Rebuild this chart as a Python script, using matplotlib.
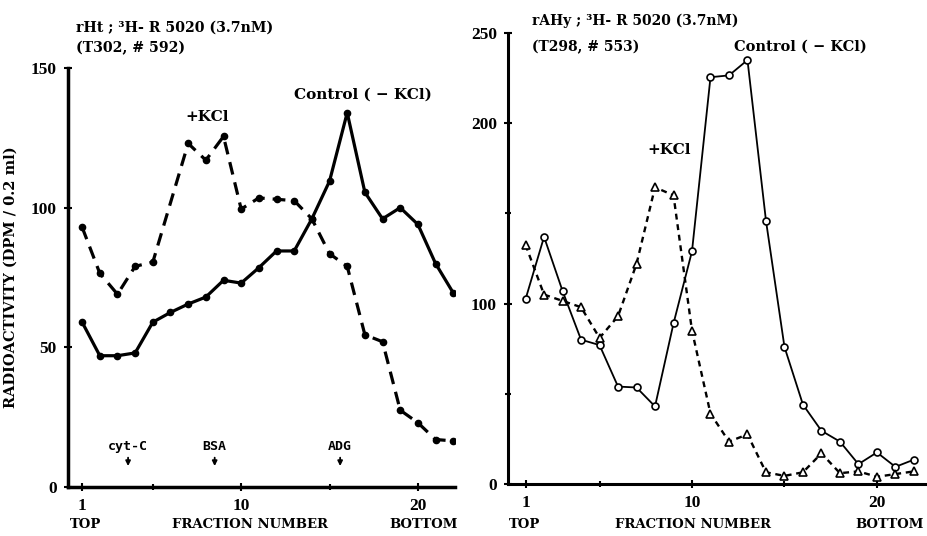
import numpy as np
import matplotlib
matplotlib.use("Agg")
import matplotlib.pyplot as plt

plt.rcParams['font.family'] = ['Liberation Serif', 'DejaVu Serif']
plt.rcParams['font.weight'] = 'bold'
plt.rcParams['axes.labelweight'] = 'bold'
ANCHA = ['DejaVu Serif']  # letra mas ancha, como la del original

# ---- datos ----
# panel izquierdo: rHt
frac_izq = list(range(1, 23))
control_izq = [59, 47, 47, 48, 59, 62.5, 65.5, 68, 74, 73, 78.5,
               84.5, 84.5, 96, 109.5, 134, 105.5, 96, 100, 94, 80, 69.5]
frac_kcl_izq = [1, 2, 3, 4, 5, 7, 8, 9, 10, 11, 12, 13, 14, 15, 16, 17, 18, 19, 20, 21, 22]
kcl_izq = [93, 76.5, 69, 79, 80.5, 123, 117, 125.5, 99.5, 103.5, 103,
           102.5, 96, 83.5, 79, 54.5, 52, 27.5, 23, 17, 16.5]
marcadores = ['cyt-C', 'BSA', 'ADG']
pos_marcadores = [3.6, 8.5, 15.6]

# panel derecho: rAHy
frac_der = list(range(1, 23))
control_der = [102.5, 137, 107, 80, 77, 54, 53.5, 43, 89, 129, 225.5,
               226.5, 235, 146, 76, 44, 29.5, 23.5, 11, 17.5, 9.5, 13.5]
kcl_der = [132.5, 105, 101.5, 98, 81, 93, 122, 164.5, 160, 85, 39,
           23.5, 27.5, 6.5, 4.5, 6.5, 17, 6, 7, 4, 5.5, 7]

fig = plt.figure(figsize=(9.27, 5.36), dpi=100)
ax1 = fig.add_axes([68/927, 1-487/536, (455-68)/927, (487-68)/536])
ax2 = fig.add_axes([508/927, 1-484/536, (925-508)/927, (484-33)/536])

# --- izquierdo ---
ax1.plot(frac_izq, control_izq, '-', color='black', lw=2.3, marker='o', ms=4.5)
ax1.plot(frac_kcl_izq, kcl_izq, '--', color='black', lw=2.3, marker='o', ms=4.5,
         dashes=(4, 2.5))
ax1.set_xlim(0.2, 22.1)
ax1.set_ylim(0, 150)
ax1.set_yticks([0, 50, 100, 150])
ax1.set_xticks([1, 10, 20])
ax1.set_xticks([5, 15], minor=True)
for nombre, xm in zip(marcadores, pos_marcadores):
    ax1.annotate('', xy=(xm, 6.5), xytext=(xm, 11.5),
                 arrowprops=dict(arrowstyle='-|>', color='black', lw=1.3,
                                 mutation_scale=7))
    ax1.text(xm, 14.5, nombre, ha='center', va='center', fontsize=9.5,
             family='DejaVu Sans Mono', fontweight='bold')
ax1.text(8.06, 132.4, '+KCl', ha='center', va='center', fontsize=11, family=ANCHA)
ax1.text(16.9, 140.3, 'Control ( − KCl)', ha='center', va='center', fontsize=11,
         family=ANCHA)
ax1.text(0.66, 164.4, 'rHt ; ³H- R 5020 (3.7nM)', ha='left', va='center',
         fontsize=10.2, family=ANCHA, clip_on=False)
ax1.text(0.66, 157.2, '(T302, # 592)', ha='left', va='center', fontsize=10.2,
         family=ANCHA, clip_on=False)
ax1.set_ylabel('RADIOACTIVITY (DPM / 0.2 ml)', fontsize=10.5, family=ANCHA,
               fontweight='bold')
ax1.yaxis.set_label_coords(-0.129, 0.5)

# --- derecho ---
ax2.plot(frac_der, control_der, '-', color='black', lw=1.3, marker='o', ms=5,
         mfc='white', mec='black', mew=1.2)
ax2.plot(frac_der, kcl_der, '--', color='black', lw=1.7, marker='^', ms=6,
         mfc='white', mec='black', mew=1.2, dashes=(2.5, 2))
ax2.set_xlim(0.05, 22.6)
ax2.set_ylim(0, 250)
ax2.set_yticks([0, 100, 200, 250])
ax2.set_yticks([50, 150], minor=True)
ax2.set_xticks([1, 10, 20])
ax2.set_xticks([5, 15], minor=True)
ax2.text(8.78, 185, '+KCl', ha='center', va='center', fontsize=11, family=ANCHA)
ax2.text(12.27, 242.3, 'Control ( − KCl)', ha='left', va='center', fontsize=10.5,
         family=ANCHA)
ax2.text(1.34, 256.6, 'rAHy ; ³H- R 5020 (3.7nM)', ha='left', va='center',
         fontsize=10, family=ANCHA, clip_on=False)
ax2.text(1.34, 242.3, '(T298, # 553)', ha='left', va='center', fontsize=10,
         family=ANCHA)

for ax, lw in ((ax1, 2.5), (ax2, 2.2)):
    ax.spines['top'].set_visible(False)
    ax.spines['right'].set_visible(False)
    ax.spines['left'].set_linewidth(lw)
    ax.spines['bottom'].set_linewidth(lw)
    ax.tick_params(which='both', direction='inout', length=6, width=1.5,
                   labelsize=12.5, pad=5)
    ax.tick_params(which='minor', length=5)
    for lab in ax.get_xticklabels() + ax.get_yticklabels():
        lab.set_fontweight('bold')

# etiquetas de abajo
for x0, x1, x2 in ((86, 250, 424), (525, 693, 890)):
    fig.text(x0/927, 1-525/536, 'TOP', ha='center', va='center', fontsize=9.5,
             family=ANCHA)
    fig.text(x1/927, 1-525/536, 'FRACTION NUMBER', ha='center', va='center',
             fontsize=9.5, family=ANCHA)
    fig.text(x2/927, 1-525/536, 'BOTTOM', ha='center', va='center', fontsize=9.5,
             family=ANCHA)

fig.savefig('out.png', dpi=100)
